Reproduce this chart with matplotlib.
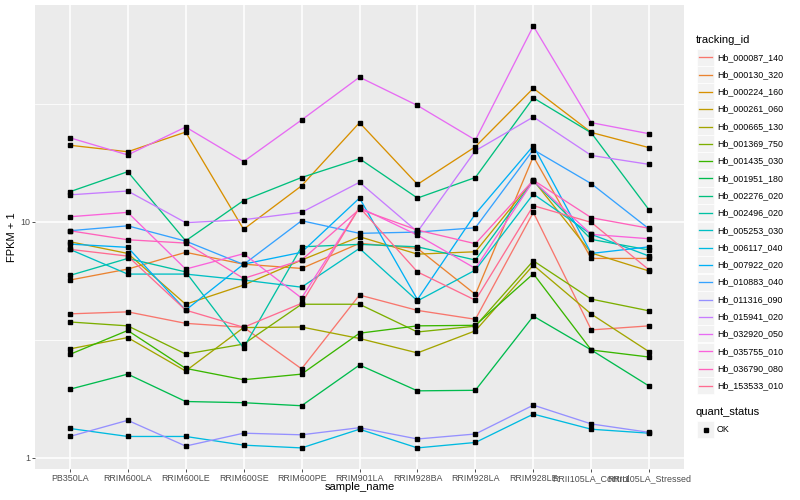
import matplotlib
matplotlib.use('Agg')
import numpy as np
import matplotlib.pyplot as plt
from matplotlib.patches import Rectangle
from matplotlib.lines import Line2D

plt.rcParams['font.family'] = ['Liberation Sans', 'DejaVu Sans']

samples = ['PB350LA', 'RRIM600LA', 'RRIM600LE', 'RRIM600SE', 'RRIM600PE', 'RRIM901LA',
           'RRIM928BA', 'RRIM928LA', 'RRIM928LE', 'RRII105LA_Control', 'RRII105LA_Stressed']

tracking_ids = ['Hb_000087_140', 'Hb_000130_320', 'Hb_000224_160', 'Hb_000261_060',
                'Hb_000665_130', 'Hb_001369_750', 'Hb_001435_030', 'Hb_001951_180',
                'Hb_002276_020', 'Hb_002496_020', 'Hb_005253_030', 'Hb_006117_040',
                'Hb_007922_020', 'Hb_010883_040', 'Hb_011316_090', 'Hb_015941_020',
                'Hb_032920_050', 'Hb_035755_010', 'Hb_036790_080', 'Hb_153533_010']

# ggplot2 default hue palette for 20 levels
colors = ['#F8766D', '#EA8331', '#D89000', '#C09B00', '#A3A500', '#7CAE00', '#39B600',
          '#00BB4E', '#00BF7D', '#00C1A3', '#00BFC4', '#00BAE0', '#00B0F6', '#35A2FF',
          '#9590FF', '#C77CFF', '#E76BF3', '#FA62DB', '#FF62BC', '#FF6C91']

# FPKM + 1 per sample, one list per gene
hb_000087_140 = [4.07, 4.15, 3.71, 3.57, 2.38, 4.89, 4.21, 3.86, 10.96, 3.48, 3.62]
hb_000130_320 = [5.66, 6.30, 7.42, 6.61, 6.34, 8.10, 7.71, 4.92, 18.9, 6.99, 6.99]
hb_000224_160 = [21.1, 19.8, 24.0, 9.29, 14.2, 26.3, 14.4, 20.8, 36.8, 23.9, 20.6]
hb_000261_060 = [8.23, 7.34, 4.47, 5.39, 6.88, 8.64, 7.29, 7.46, 15.0, 7.37, 6.18]
hb_000665_130 = [2.89, 3.23, 2.33, 3.56, 3.58, 3.20, 2.78, 3.45, 6.55, 4.06, 2.81]
hb_001369_750 = [3.76, 3.62, 2.75, 3.03, 4.47, 4.47, 3.41, 3.61, 6.83, 4.70, 4.19]
hb_001435_030 = [2.74, 3.46, 2.39, 2.14, 2.26, 3.37, 3.62, 3.64, 6.02, 2.86, 2.67]
hb_001951_180 = [1.95, 2.26, 1.73, 1.71, 1.66, 2.47, 1.92, 1.93, 3.98, 2.86, 2.01]
hb_002276_020 = [13.4, 16.3, 8.30, 12.3, 15.4, 18.5, 12.6, 15.4, 33.5, 23.8, 11.2]
hb_002496_020 = [5.92, 6.99, 6.13, 2.92, 7.83, 8.02, 7.83, 6.88, 14.9, 8.42, 7.59]
hb_005253_030 = [7.64, 6.00, 6.00, 5.66, 5.28, 7.71, 4.62, 6.24, 13.1, 8.84, 7.15]
hb_006117_040 = [1.33, 1.23, 1.23, 1.13, 1.10, 1.32, 1.10, 1.16, 1.53, 1.32, 1.27]
hb_007922_020 = [8.04, 7.79, 4.22, 6.61, 7.42, 12.6, 4.68, 10.8, 21.0, 7.34, 7.83]
hb_010883_040 = [9.16, 9.61, 8.28, 6.59, 10.1, 8.93, 9.04, 9.43, 20.2, 14.5, 9.31]
hb_011316_090 = [1.23, 1.44, 1.12, 1.27, 1.25, 1.34, 1.20, 1.26, 1.67, 1.39, 1.28]
hb_015941_020 = [13.0, 13.5, 9.91, 10.2, 10.96, 14.7, 9.07, 20.0, 27.8, 19.1, 17.5]
hb_032920_050 = [22.7, 19.2, 25.2, 18.0, 27.0, 41.0, 31.1, 22.2, 67.5, 26.3, 23.6]
hb_035755_010 = [10.5, 10.96, 6.30, 7.32, 4.75, 11.5, 8.78, 6.34, 14.9, 8.84, 8.47]
hb_036790_080 = [9.16, 8.39, 8.12, 5.75, 6.88, 11.3, 9.22, 8.07, 15.0, 10.4, 9.38]
hb_153533_010 = [7.64, 7.15, 4.22, 3.57, 4.51, 11.5, 6.13, 4.65, 11.7, 9.94, 6.24]

series = [hb_000087_140, hb_000130_320, hb_000224_160, hb_000261_060, hb_000665_130,
          hb_001369_750, hb_001435_030, hb_001951_180, hb_002276_020, hb_002496_020,
          hb_005253_030, hb_006117_040, hb_007922_020, hb_010883_040, hb_011316_090,
          hb_015941_020, hb_032920_050, hb_035755_010, hb_036790_080, hb_153533_010]

W, H = 800, 500
fig = plt.figure(figsize=(W / 100, H / 100), dpi=100)
fig.patch.set_facecolor('white')

def fx(px):
    return px / W

def fy(py):
    return 1 - py / H

ax = fig.add_axes([fx(35), fy(469), fx(684) - fx(35), fy(5) - fy(469)])
ax.set_facecolor('#EBEBEB')

x = np.arange(len(samples))
for vals, col in zip(series, colors):
    ax.plot(x, vals, color=col, lw=0.95, zorder=2)
for vals in series:
    ax.plot(x, vals, 's', color='black', ms=2.2, zorder=3, lw=0)

# log scale, 5% expansion like ggplot
ax.set_yscale('log')
allv = np.log10(np.concatenate([np.array(s) for s in series]))
lo, hi = allv.min(), allv.max()
pad = (hi - lo) * 0.05
ax.set_ylim(10 ** (lo - pad), 10 ** (hi + pad))
ax.set_xlim(-0.6, len(samples) - 1 + 0.6)

ax.set_yticks([1, 10])
ax.set_yticklabels(['1', '10'])
ax.set_yticks([10 ** 0.5, 10 ** 1.5], minor=True)
ax.yaxis.set_minor_formatter(matplotlib.ticker.NullFormatter())
ax.set_xticks(x)
ax.set_xticklabels(samples)

ax.grid(which='major', color='white', lw=1.1, zorder=0)
ax.grid(which='minor', axis='y', color='white', lw=0.55, zorder=0)
ax.set_axisbelow(True)
for s in ax.spines.values():
    s.set_visible(False)
ax.tick_params(which='major', length=2.2, width=0.6, color='#333333',
               labelcolor='#4D4D4D', labelsize=6.4, pad=1.5)
ax.tick_params(which='minor', length=0)

fig.text(fx(359.5), fy(487), 'sample_name', ha='center', va='center', fontsize=8, color='black')
fig.text(fx(12), fy(237), 'FPKM + 1', ha='center', va='center', rotation=90, fontsize=8, color='black')

# legend: tracking_id
fig.text(fx(696), fy(40), 'tracking_id', ha='left', va='center', fontsize=8, color='black')
y0, step = 57.3, 17.3
for i, (name, col) in enumerate(zip(tracking_ids, colors)):
    yc = y0 + i * step
    fig.patches.append(Rectangle((fx(697), fy(yc + 8.3)), fx(17), 17 / H,
                                 transform=fig.transFigure, facecolor='#F2F2F2',
                                 edgecolor='white', lw=0.5))
    fig.lines.append(Line2D([fx(699), fx(712)], [fy(yc), fy(yc)], color=col, lw=0.95,
                            transform=fig.transFigure))
    fig.text(fx(717), fy(yc), name, ha='left', va='center', fontsize=6.4, color='black')

# legend: quant_status
fig.text(fx(696), fy(411.7), 'quant_status', ha='left', va='center', fontsize=8, color='black')
yc = 429.5
fig.patches.append(Rectangle((fx(697), fy(yc + 8.3)), fx(17), 17 / H,
                             transform=fig.transFigure, facecolor='#F2F2F2',
                             edgecolor='white', lw=0.5))
fig.lines.append(Line2D([fx(705.5)], [fy(yc)], marker='s', color='black', ms=2.2,
                        transform=fig.transFigure))
fig.text(fx(717), fy(yc), 'OK', ha='left', va='center', fontsize=6.4, color='black')

fig.savefig('out.png', dpi=100)
